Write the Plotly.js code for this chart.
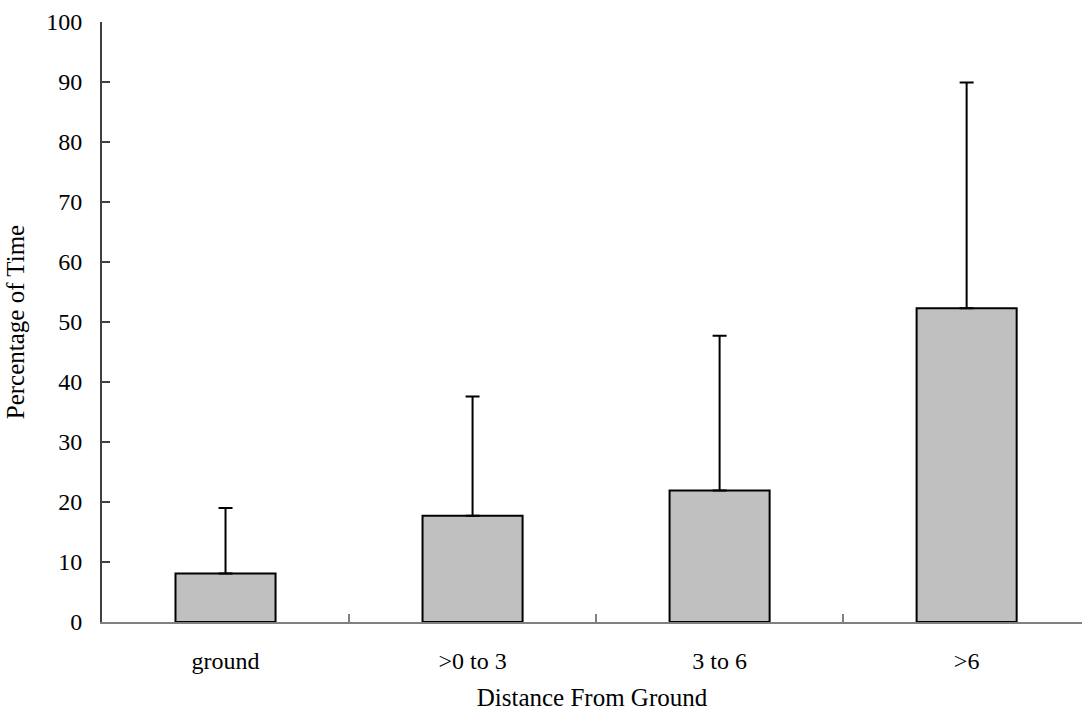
<!DOCTYPE html>
<html>
<head>
<meta charset="utf-8">
<script src="https://cdn.plot.ly/plotly-3.0.1.min.js"></script>
<style>html,body{margin:0;padding:0;background:#fff;}#chart{width:1082px;height:717px;}</style>
</head>
<body>
<div id="chart"></div>
<script>
const categories = ["ground", ">0 to 3", "3 to 6", ">6"];
const meanPercent = [8.1, 17.7, 21.9, 52.3];
const sdPercent = [10.9, 19.9, 25.8, 37.6];
const yTicks = [0, 10, 20, 30, 40, 50, 60, 70, 80, 90, 100];

const FONT = "'Liberation Serif', 'Times New Roman', serif";

const trace = {
  type: "bar",
  x: categories,
  y: meanPercent,
  width: 0.405,
  marker: {color: "#c0c0c0", line: {color: "#000", width: 2}},
  error_y: {
    type: "data",
    symmetric: false,
    array: sdPercent,
    arrayminus: meanPercent.map(() => 0),
    color: "#000",
    thickness: 2,
    width: 7
  },
  hoverinfo: "x+y"
};

const layout = {
  width: 1082,
  height: 717,
  margin: {l: 102, r: 0, t: 22, b: 95, pad: 0},
  paper_bgcolor: "#fff",
  plot_bgcolor: "#fff",
  showlegend: false,
  font: {family: FONT, size: 24, color: "#000"},
  xaxis: {
    type: "category",
    range: [-0.5, 3.467],
    showline: true,
    linecolor: "#808080",
    linewidth: 2,
    ticks: "inside",
    tickson: "boundaries",
    ticklen: 8,
    tickwidth: 1.5,
    tickcolor: "#808080",
    showgrid: false,
    zeroline: false,
    tickfont: {family: FONT, size: 24, color: "#000"},
    ticklabelstandoff: 16,
    title: {text: "Distance From Ground", font: {family: FONT, size: 25, color: "#000"}, standoff: 16},
    automargin: false
  },
  yaxis: {
    range: [0, 100],
    tickvals: yTicks,
    ticktext: yTicks.map(String),
    showline: true,
    linecolor: "#404040",
    linewidth: 2,
    ticks: "inside",
    ticklen: 8,
    tickwidth: 1.5,
    tickcolor: "#404040",
    showgrid: false,
    zeroline: false,
    tickfont: {family: FONT, size: 24, color: "#000"},
    ticklabelstandoff: 13,
    title: {text: "Percentage of Time", font: {family: FONT, size: 25, color: "#000"}, standoff: 14},
    automargin: false
  }
};

Plotly.newPlot("chart", [trace], layout, {displayModeBar: false, staticPlot: true});
</script>
</body>
</html>
